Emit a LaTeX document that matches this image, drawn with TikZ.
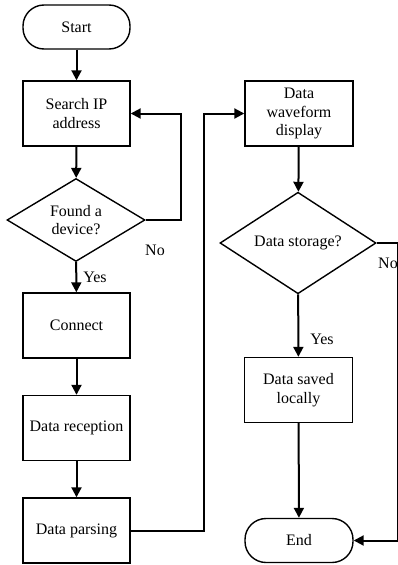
\documentclass[tikz,border=0pt]{standalone}
\usepackage{fontspec}
\setmainfont{Liberation Serif}
\usetikzlibrary{shapes.geometric,arrows.meta}

\tikzset{
  term/.style={draw,line width=1.4pt,rounded corners=21pt,minimum width=107pt,minimum height=44pt,font=\fontsize{16}{18.5}\selectfont},
  proc/.style={draw,line width=1.4pt,minimum width=107pt,minimum height=65pt,align=center,font=\fontsize{16}{18.5}\selectfont},
  choice/.style={draw,line width=1.4pt,diamond,inner sep=0pt,align=center,font=\fontsize{16}{18.5}\selectfont},
  arr/.style={line width=2pt,-{Triangle[length=10pt,width=10pt]}},
  lbl/.style={font=\fontsize{16}{18.5}\selectfont}
}

\begin{document}
\begin{tikzpicture}[x=1pt,y=-1pt]
\useasboundingbox (0,0) rectangle (398,565);
% left column
\node[term] (start) at (76.5,27) {Start};
\node[proc] (search) at (76.5,113.5) {Search IP\\address};
\node[choice,minimum width=138pt,minimum height=83pt] (found) at (76,220) {Found a\\device?};
\node[proc] (connect) at (76.5,325.5) {Connect};
\node[proc] (recv) at (76.5,428) {Data reception};
\node[proc] (parse) at (76.5,530.5) {Data parsing};
% right column
\node[proc,minimum width=108pt] (wave) at (299,113.5) {Data\\waveform\\display};
\node[choice,minimum width=156pt,minimum height=96pt] (store) at (298,243) {Data storage?};
\node[proc,minimum width=108pt] (saved) at (298.5,390) {Data saved\\locally};
\node[term,minimum width=108pt] (end) at (299,540.5) {End};

\draw[arr] (start) -- (search);
\draw[arr] (search) -- (found);
\draw[arr] (found.east) -- ++(35,0) |- (search.east);
\draw[arr] (found) -- (connect);
\draw[arr] (connect) -- (recv);
\draw[arr] (recv) -- (parse);
\draw[arr] (parse.east) -- ++(73,0) |- (wave.west);
\draw[arr] (wave) -- (store);
\draw[arr] (store) -- (saved);
\draw[arr] (store.east) -- ++(21,0) |- (end.east);
\draw[arr] (saved) -- (end);

\node[lbl] (no1) at (155,250) {No};
\node[lbl] (yes1) at (95,277) {Yes};
\node[lbl] (no2) at (388,263) {No};
\node[lbl] (yes2) at (322,339) {Yes};
\end{tikzpicture}
\end{document}
